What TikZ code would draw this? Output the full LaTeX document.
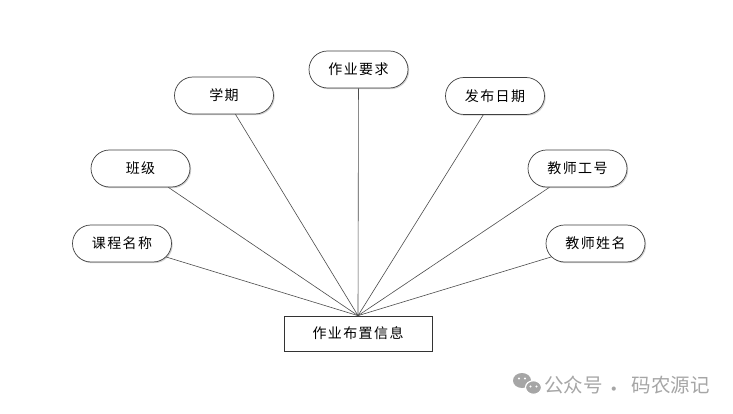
\documentclass[tikz,border=0pt]{standalone}
\usepackage{fontspec}
\setmainfont{Noto Sans CJK SC}
\newfontfamily\spaced[LetterSpace=10]{Noto Sans CJK SC}
\usetikzlibrary{shapes.misc,shadows}
\begin{document}
\begin{tikzpicture}[x=1pt,y=-1pt,
  attr/.style={rounded rectangle, draw=black!75, line width=0.7pt, fill=white,
    minimum width=99pt, minimum height=37pt, inner sep=0pt, font=\spaced\fontsize{14}{16}\selectfont,
    drop shadow={shadow xshift=1.2pt, shadow yshift=-1.2pt, opacity=0.18, fill=black}},
  ent/.style={rectangle, draw=black!80, line width=0.7pt, fill=white,
    minimum width=148pt, minimum height=35pt, inner sep=0pt, font=\spaced\fontsize{14}{16}\selectfont,
    drop shadow={shadow xshift=1.2pt, shadow yshift=-1.2pt, opacity=0.18, fill=black}},
  link/.style={draw=black!70, line width=0.6pt},
  wmtext/.style={inner sep=0pt, text=black!35, font=\fontsize{19.5}{21}\selectfont}]
\useasboundingbox[fill=white] (0,0) rectangle (733,414);
\node[ent] (info) at (358,333.5) {作业布置信息};
\node[attr] (req) at (358.5,69.5) {作业要求};
\node[attr] (term) at (224,95.5) {学期};
\node[attr] (date) at (495,96) {发布日期};
\node[attr] (cls) at (140.5,168.5) {班级};
\node[attr] (tno) at (577.5,168.5) {教师工号};
\node[attr] (course) at (122,243.5) {课程名称};
\node[attr] (tname) at (595.5,243.5) {教师姓名};
\foreach \n in {req,term,date,cls,tno,course,tname}{
  \draw[link] (\n) -- (info.north);
}
% watermark
\node[wmtext, anchor=base west] (wm1) at (544,392.5) {公众号};
\node[wmtext, anchor=base] (wmdot) at (614.5,396) {·};
\node[wmtext, anchor=base east] (wm2) at (710,392.5) {码农源记};
\fill[black!35] (522,380.5) ellipse [x radius=9, y radius=7.5];
\fill[black!35, draw=white, line width=1.2pt] (533.5,387.5) ellipse [x radius=8, y radius=6.8];
\fill[white] (519,378.5) circle (1.2) (525,378.5) circle (1.2);
\fill[white] (530.5,386.5) circle (1.1) (536.5,386.5) circle (1.1);
\end{tikzpicture}
\end{document}
